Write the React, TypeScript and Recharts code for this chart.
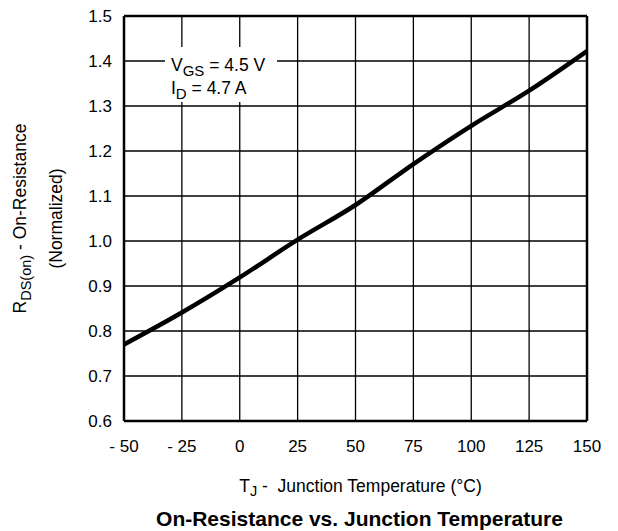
import React from 'react';
import { LineChart, Line, XAxis, YAxis, CartesianGrid, ReferenceLine, ReferenceArea } from 'recharts';

const temperatures = [-50, -25, 0, 25, 50, 75, 100, 125, 150];
const rdsNormalized = [0.77, 0.841, 0.919, 1.003, 1.08, 1.171, 1.256, 1.334, 1.422];
const xTicks = [-50, -25, 0, 25, 50, 75, 100, 125, 150];
const yTicks = [0.6, 0.7, 0.8, 0.9, 1.0, 1.1, 1.2, 1.3, 1.4, 1.5];
const noteBoxX = [-32.3, 16.1];
const noteBoxY = [1.309, 1.431];

const data = temperatures.map((t, i) => ({ t, r: rdsNormalized[i] }));

const FONT = '"Liberation Sans", Arial, Helvetica, sans-serif';

const fmtX = (v: number) => (v < 0 ? `- ${Math.abs(v)}` : `${v}`);
const fmtY = (v: number) => v.toFixed(1);

const YLabel = (props: any) => {
  const vb = props.viewBox || { x: 0, y: 16, width: 124, height: 405 };
  const cy = vb.y + vb.height / 2;
  const x1 = vb.x + 26;
  const x2 = vb.x + 62;
  return (
    <g fontFamily={FONT} fontSize={17.5} fill="#000">
      <text x={x1} y={cy} transform={`rotate(-90, ${x1}, ${cy})`} textAnchor="middle" fill="#000">
        <tspan>R</tspan>
        <tspan fontSize={14.5} dy={5}>DS(on)</tspan>
        <tspan dy={-5}> - On-Resistance</tspan>
      </text>
      <text x={x2} y={cy} transform={`rotate(-90, ${x2}, ${cy})`} textAnchor="middle" fill="#000">
        (Normalized)
      </text>
    </g>
  );
};

const XLabel = (props: any) => {
  const vb = props.viewBox || { x: 124, y: 421, width: 463, height: 110 };
  const cx = vb.x + vb.width / 2;
  return (
    <g fontFamily={FONT} fill="#000">
      <text x={cx + 5} y={vb.y + 71} textAnchor="middle" fontSize={17.5} fill="#000" style={{ whiteSpace: 'pre' }}>
        <tspan>T</tspan>
        <tspan fontSize={14.5} dy={4}>J</tspan>
        <tspan dy={-4}>{' -  Junction Temperature (°C)'}</tspan>
      </text>
      <text x={cx + 4} y={vb.y + 105} textAnchor="middle" fontSize={21} fontWeight="bold" fill="#000">
        On-Resistance vs. Junction Temperature
      </text>
    </g>
  );
};

const NoteLabel = (props: any) => {
  const vb = props.viewBox || { x: 165, y: 47, width: 112, height: 55 };
  const x = vb.x + 6;
  return (
    <g fontFamily={FONT} fontSize={17.5} fill="#000">
      <text x={x} y={vb.y + 24} fill="#000">
        <tspan>V</tspan>
        <tspan fontSize={15} dy={5}>GS</tspan>
        <tspan dy={-5}> = 4.5 V</tspan>
      </text>
      <text x={x} y={vb.y + 47} fill="#000">
        <tspan>I</tspan>
        <tspan fontSize={15} dy={5}>D</tspan>
        <tspan dy={-5}> = 4.7 A</tspan>
      </text>
    </g>
  );
};

export default function App() {
  return (
    <div style={{ position: 'absolute', left: 0, top: 0, background: '#fff' }}>
      <LineChart width={618} height={531} data={data} margin={{ top: 16, right: 31, left: 0, bottom: 0 }}>
        <CartesianGrid stroke="#000" strokeWidth={1.3} />
        <XAxis
          dataKey="t"
          type="number"
          domain={[-50, 150]}
          ticks={xTicks}
          tickFormatter={fmtX}
          height={110}
          tickLine={false}
          tickSize={0}
          tickMargin={19}
          axisLine={{ stroke: '#000', strokeWidth: 2.5 }}
          tick={{ fill: '#000', fontSize: 17, fontFamily: FONT }}
          interval={0}
          label={<XLabel />}
        />
        <YAxis
          type="number"
          domain={[0.6, 1.5]}
          ticks={yTicks}
          tickFormatter={fmtY}
          width={124}
          tickLine={false}
          tickSize={0}
          tickMargin={12}
          axisLine={{ stroke: '#000', strokeWidth: 2.5 }}
          tick={{ fill: '#000', fontSize: 17, fontFamily: FONT }}
          interval={0}
          label={<YLabel />}
        />
        <ReferenceLine y={1.5} stroke="#000" strokeWidth={2.5} />
        <ReferenceLine x={150} stroke="#000" strokeWidth={2.5} />
        <ReferenceArea
          x1={noteBoxX[0]}
          x2={noteBoxX[1]}
          y1={noteBoxY[0]}
          y2={noteBoxY[1]}
          fill="#fff"
          fillOpacity={1}
          stroke="none"
          label={<NoteLabel />}
        />
        <Line
          dataKey="r"
          type="monotone"
          stroke="#000"
          strokeWidth={4.5}
          dot={false}
          activeDot={false}
          isAnimationActive={false}
        />
      </LineChart>
    </div>
  );
}
